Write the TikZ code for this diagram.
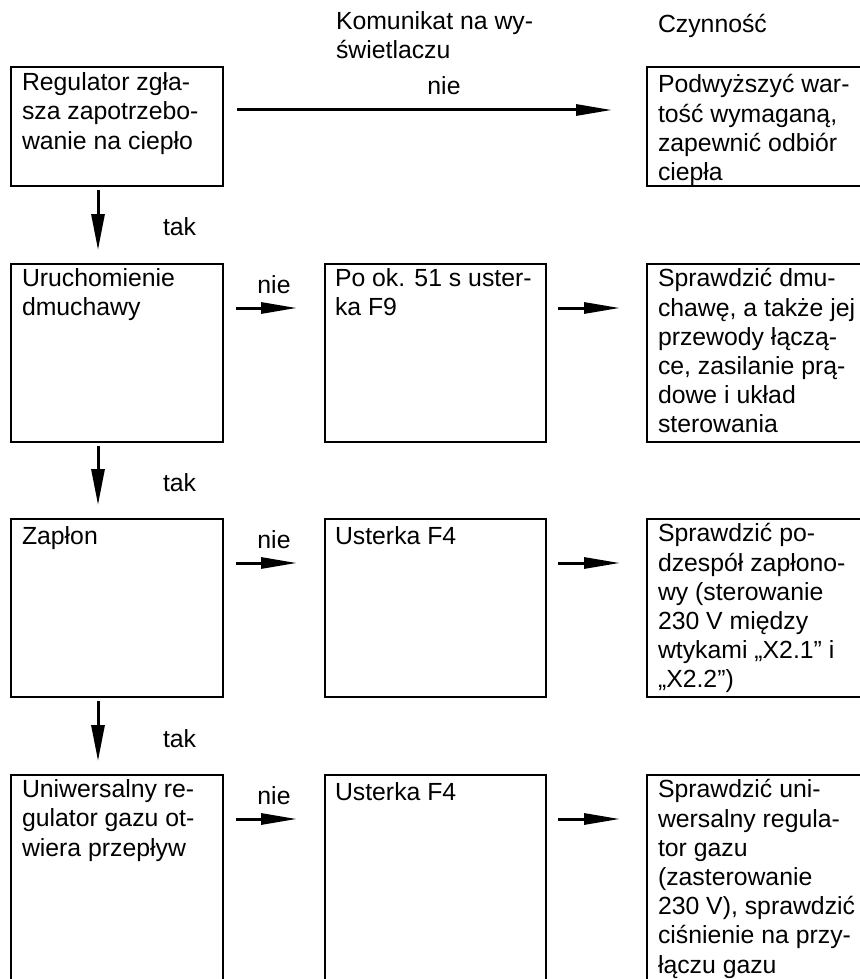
\documentclass[tikz,border=0pt]{standalone}
\usepackage{fontspec}
\setmainfont{Liberation Sans}
\usetikzlibrary{arrows.meta}
\begin{document}
\begin{tikzpicture}[x=0.5pt,y=-0.5pt,
  box/.style={draw, line width=1.25pt, anchor=north west, inner sep=0pt, outer sep=0pt},
  txt/.style={anchor=north west, yshift=10.15pt, inner sep=0pt, outer sep=0pt, align=left, font=\fontsize{12.4}{14.6}\selectfont, execute at begin node=\strut},
  lbl/.style={inner sep=0pt, outer sep=0pt, font=\fontsize{12.4}{14.6}\selectfont},
  varr/.style={line width=1.5pt, -{Triangle[length=18pt,width=6.5pt]}},
  harr/.style={line width=1.5pt, -{Triangle[length=18pt,width=5.5pt]}}]
\useasboundingbox (0,0) rectangle (860,979);
\begin{scope}
\clip (0,0) rectangle (860,979);
% headers
\node[txt] (h1) at (336,32) {Komunikat na wy-\\świetlaczu};
\node[txt] (h2) at (658,32) {Czynność};
% row 1
\node[box, minimum width=106pt, minimum height=59.5pt] (l1) at (11,67) {};
\node[box, minimum width=125pt, minimum height=59.5pt] (r1) at (647,67) {};
\node[txt] (tl1) at (22,93) {Regulator zgła-\\sza zapotrzebo-\\wanie na ciepło};
\node[txt] (tr1) at (658,95) {Podwyższyć war-\\tość wymaganą,\\zapewnić odbiór\\ciepła};
% row 2
\node[box, minimum width=106pt, minimum height=89pt] (l2) at (11,264) {};
\node[box, minimum width=110.5pt, minimum height=89pt] (m2) at (325,264) {};
\node[box, minimum width=125pt, minimum height=89pt] (r2) at (647,264) {};
\node[txt] (tl2) at (22,289) {Uruchomienie\\dmuchawy};
\node[txt] (tm2) at (335,289) {Po ok. 51 s uster-\\ka F9};
\node[txt] (tr2) at (658,289) {Sprawdzić dmu-\\chawę, a także jej\\przewody łączą-\\ce, zasilanie prą-\\dowe i układ\\sterowania};
% row 3
\node[box, minimum width=106pt, minimum height=89pt] (l3) at (11,519) {};
\node[box, minimum width=110.5pt, minimum height=89pt] (m3) at (325,519) {};
\node[box, minimum width=125pt, minimum height=89pt] (r3) at (647,519) {};
\node[txt] (tl3) at (22,544) {Zapłon};
\node[txt] (tm3) at (335,544) {Usterka F4};
\node[txt] (tr3) at (658,544) {Sprawdzić po-\\dzespół zapłono-\\wy (sterowanie\\230 V między\\wtykami „X2.1” i\\„X2.2”)};
% row 4
\node[box, minimum width=106pt, minimum height=120pt] (l4) at (11,775) {};
\node[box, minimum width=110.5pt, minimum height=120pt] (m4) at (325,775) {};
\node[box, minimum width=125pt, minimum height=120pt] (r4) at (647,775) {};
\node[txt] (tl4) at (22,800) {Uniwersalny re-\\gulator gazu ot-\\wiera przepływ};
\node[txt] (tm4) at (335,800) {Usterka F4};
\node[txt] (tr4) at (658,800) {Sprawdzić uni-\\wersalny regula-\\tor gazu\\(zasterowanie\\230 V), sprawdzić\\ciśnienie na przy-\\łączu gazu};
% top arrow
\draw[harr] ([shift={(14,43)}]l1.north east) -- ([shift={(-35,43)}]r1.north west);
\node[lbl, anchor=base] (n1) at (444,95) {nie};
% vertical arrows
\draw[varr] ([shift={(87,4)}]l1.south west) -- ([shift={(87,-14)}]l2.north west);
\draw[varr] ([shift={(87,4)}]l2.south west) -- ([shift={(87,-14)}]l3.north west);
\draw[varr] ([shift={(87,4)}]l3.south west) -- ([shift={(87,-14)}]l4.north west);
\node[lbl, anchor=base west] (t2) at (163,235) {tak};
\node[lbl, anchor=base west] (t3) at (163,491) {tak};
\node[lbl, anchor=base west] (t4) at (163,747) {tak};
% horizontal arrows rows 2-4
\draw[harr] ([shift={(13,44)}]l2.north east) -- ([shift={(-28,44)}]m2.north west);
\draw[harr] ([shift={(12,44)}]m2.north east) -- ([shift={(-27,44)}]r2.north west);
\node[lbl, anchor=base] (n2) at (274,293) {nie};
\draw[harr] ([shift={(13,44)}]l3.north east) -- ([shift={(-28,44)}]m3.north west);
\draw[harr] ([shift={(12,44)}]m3.north east) -- ([shift={(-27,44)}]r3.north west);
\node[lbl, anchor=base] (n3) at (274,548) {nie};
\draw[harr] ([shift={(13,44)}]l4.north east) -- ([shift={(-28,44)}]m4.north west);
\draw[harr] ([shift={(12,44)}]m4.north east) -- ([shift={(-27,44)}]r4.north west);
\node[lbl, anchor=base] (n4) at (274,804) {nie};
\end{scope}
\end{tikzpicture}
\end{document}
